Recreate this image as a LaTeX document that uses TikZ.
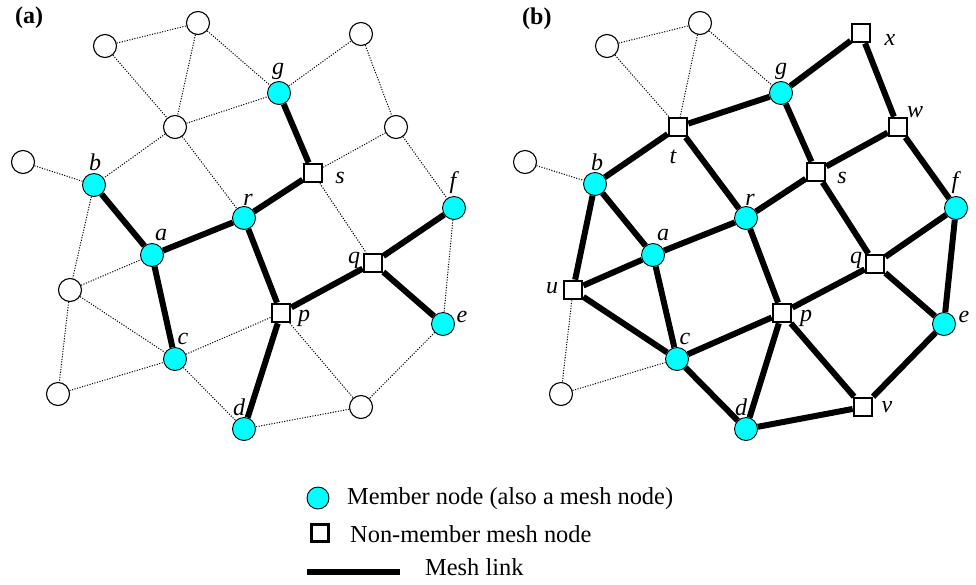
\documentclass[tikz,border=0pt]{standalone}
\usepackage{fontspec}
\setmainfont{Liberation Serif}
\definecolor{memb}{RGB}{0,255,255}
\pgfdeclarelayer{background}
\pgfsetlayers{background,main}
\begin{document}
\begin{tikzpicture}[x=1pt,y=-1pt,
  member/.style={circle,draw,fill=memb,line width=0.9pt,minimum size=23pt,inner sep=0pt},
  plain/.style={circle,draw,fill=white,line width=1.1pt,minimum size=23pt,inner sep=0pt},
  mesh/.style={rectangle,draw,fill=white,line width=2.2pt,minimum size=18.5pt,inner sep=0pt},
  link/.style={line width=6pt},
  weak/.style={line width=1pt,dash pattern=on 1.1pt off 1.5pt},
  lbl/.style={font=\fontsize{24}{28}\selectfont\itshape,inner sep=0pt,anchor=base},
  txt/.style={font=\fontsize{24.4}{28}\selectfont,inner sep=0pt,anchor=base west},
  ttl/.style={font=\fontsize{24}{28}\selectfont\bfseries,inner sep=0pt,anchor=base west}]
\useasboundingbox (0,0) rectangle (976,584);

% ---------------- panel (a) ----------------
\node[ttl] (ta) at (15,23) {(a)};
\node[plain] (Atop) at (198,23) {};
\node[plain] (Alt) at (105,46) {};
\node[plain] (Art) at (361,34) {};
\node[member] (Ag) at (279,93) {};
\node[plain] (Amid) at (175,127) {};
\node[plain] (Arm) at (396,127) {};
\node[mesh] (As) at (313,173) {};
\node[plain] (Alft) at (23,162) {};
\node[member] (Ab) at (94,185) {};
\node[member] (Ar) at (244,218) {};
\node[member] (Af) at (454,208) {};
\node[member] (Aa) at (152,255) {};
\node[plain] (All) at (70,290) {};
\node[member] (Ac) at (175,359) {};
\node[plain] (Abl) at (58,394) {};
\node[member] (Ad) at (244,429) {};
\node[mesh] (Ap) at (281,313) {};
\node[mesh] (Aq) at (373,263) {};
\node[member] (Ae) at (443,324) {};
\node[plain] (Abr) at (361,407) {};

\node[lbl] (lAg) at (278,74) {g};
\node[lbl] (lAb) at (95,170) {b};
\node[lbl] (lAr) at (248,205) {r};
\node[lbl] (lAs) at (340,183) {s};
\node[lbl] (lAf) at (453,188) {f};
\node[lbl] (lAa) at (161,240) {a};
\node[lbl] (lAc) at (183,344) {c};
\node[lbl] (lAd) at (239,415) {d};
\node[lbl] (lAp) at (304,321) {p};
\node[lbl] (lAq) at (354,263) {q};
\node[lbl] (lAe) at (462,322) {e};

\begin{pgfonlayer}{background}
\foreach \u/\v in {Alt/Atop,Alt/Amid,Atop/Amid,Atop/Ag,Ag/Art,Amid/Ag,Art/Arm,Arm/As,Arm/Af,Amid/Ab,Amid/Ar,Alft/Ab,Ab/All,All/Aa,All/Ac,All/Abl,Abl/Ac,Ac/Ap,Ac/Ad,As/Aq,Af/Ae,Ae/Abr,Abr/Ad,Ap/Abr}
  \draw[weak] (\u) -- (\v);
\foreach \u/\v in {Ag/As,As/Ar,Ar/Aa,Ab/Aa,Aa/Ac,Ar/Ap,Ap/Aq,Aq/Af,Aq/Ae,Ap/Ad}
  \draw[link] (\u) -- (\v);
\end{pgfonlayer}

% ---------------- panel (b) ----------------
\node[ttl] (tb) at (522,24) {(b)};
\node[plain] (Btop) at (700,23) {};
\node[plain] (Blt) at (607,46) {};
\node[mesh] (Bx) at (861,33) {};
\node[member] (Bg) at (781,93) {};
\node[mesh] (Bt) at (678,127) {};
\node[mesh] (Bw) at (898,127) {};
\node[mesh] (Bs) at (816,172) {};
\node[plain] (Blft) at (525,162) {};
\node[member] (Bb) at (595,184) {};
\node[member] (Br) at (746,218) {};
\node[member] (Bf) at (956,208) {};
\node[member] (Ba) at (653,255) {};
\node[mesh] (Bu) at (573,290) {};
\node[member] (Bc) at (677,359) {};
\node[plain] (Bbl) at (561,394) {};
\node[member] (Bd) at (746,429) {};
\node[mesh] (Bp) at (782,313) {};
\node[mesh] (Bq) at (875,264) {};
\node[member] (Be) at (944,324) {};
\node[mesh] (Bv) at (863,407) {};

\node[lbl] (lBx) at (890,45) {x};
\node[lbl] (lBg) at (781,74) {g};
\node[lbl] (lBt) at (673,163) {t};
\node[lbl] (lBw) at (915,117) {w};
\node[lbl] (lBb) at (597,170) {b};
\node[lbl] (lBs) at (842,183) {s};
\node[lbl] (lBr) at (750,205) {r};
\node[lbl] (lBf) at (955,188) {f};
\node[lbl] (lBa) at (663,240) {a};
\node[lbl] (lBu) at (552,293) {u};
\node[lbl] (lBq) at (856,263) {q};
\node[lbl] (lBp) at (806,321) {p};
\node[lbl] (lBe) at (964,322) {e};
\node[lbl] (lBc) at (685,344) {c};
\node[lbl] (lBd) at (741,415) {d};
\node[lbl] (lBv) at (887,412) {v};

\begin{pgfonlayer}{background}
\foreach \u/\v in {Blt/Btop,Blt/Bt,Btop/Bt,Btop/Bg,Blft/Bb,Bu/Bbl,Bbl/Bc}
  \draw[weak] (\u) -- (\v);
\foreach \u/\v in {Bt/Bg,Bg/Bx,Bx/Bw,Bw/Bs,Bw/Bf,Bt/Bb,Bt/Br,Bg/Bs,Bs/Br,Bs/Bq,Bb/Ba,Bb/Bu,Bu/Ba,Bu/Bc,Ba/Br,Ba/Bc,Br/Bp,Bp/Bq,Bq/Bf,Bq/Be,Bf/Be,Bp/Bc,Bp/Bd,Bp/Bv,Bc/Bd,Bd/Bv,Bv/Be}
  \draw[link] (\u) -- (\v);
\end{pgfonlayer}

% ---------------- legend ----------------
\node[member,minimum size=22pt] (Lm) at (318,498) {};
\node[mesh,minimum size=17pt] (Ln) at (320,533) {};
\coordinate (L1) at (307,572);
\coordinate (L2) at (400,572);
\draw[link] (L1) -- (L2);
\node[txt] (Tm) at (347,504) {Member node (also a mesh node)};
\node[txt] (Tn) at (350,542) {Non-member mesh node};
\node[txt] (Tl) at (425,575) {Mesh link};
\end{tikzpicture}
\end{document}
